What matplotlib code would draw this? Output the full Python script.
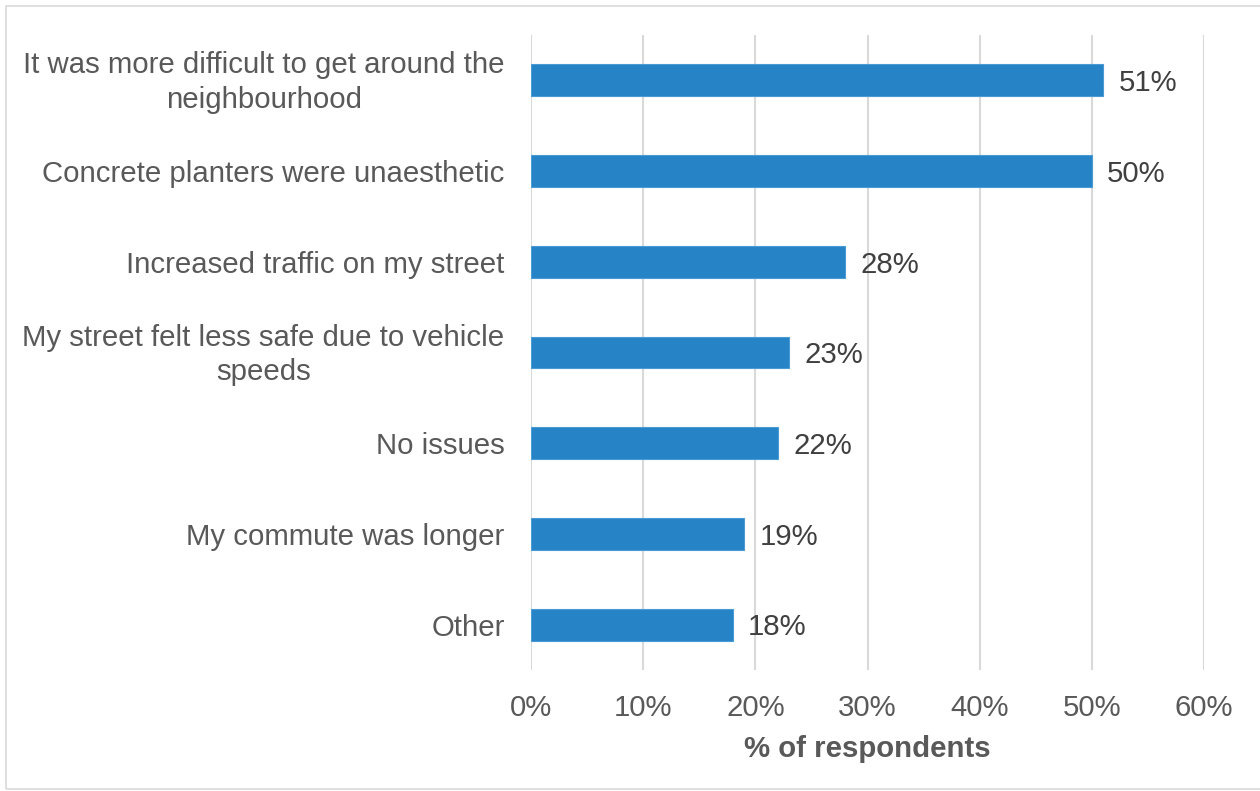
import matplotlib
matplotlib.use("Agg")
import matplotlib.pyplot as plt
import matplotlib.transforms as mtransforms
from matplotlib.patches import Rectangle
from matplotlib.ticker import FuncFormatter

plt.rcParams['font.family'] = ['Liberation Sans', 'DejaVu Sans']

categories = [
    "It was more difficult to get around the\nneighbourhood",
    "Concrete planters were unaesthetic",
    "Increased traffic on my street",
    "My street felt less safe due to vehicle\nspeeds",
    "No issues",
    "My commute was longer",
    "Other",
]
values = [51, 50, 28, 23, 22, 19, 18]
xticks = [0, 10, 20, 30, 40, 50, 60]

bar_color = "#2683C6"
text_color = "#595959"
value_color = "#404040"
grid_color = "#D9D9D9"
fs = 21.2

W, H, DPI = 1260, 791, 100
fig = plt.figure(figsize=(W / DPI, H / DPI), dpi=DPI)
fig.patch.set_facecolor("white")

# outer frame
fig.patches.append(Rectangle((6 / W, 0.002), 1.0, 1 - 6 / H - 0.002,
                             transform=fig.transFigure, fill=False,
                             edgecolor="#D9D9D9", linewidth=1.2))

left, right = 531 / W, 1204 / W
top, bottom = 1 - 35 / H, 1 - 670 / H
ax = fig.add_axes([left, bottom, right - left, top - bottom])

ypos = list(range(len(categories)))
ax.barh(ypos, values, height=0.35, color=bar_color,
        edgecolor="#4A9AD6", linewidth=0.8, zorder=3)

for y, v in zip(ypos, values):
    ax.annotate(f"{v}%", xy=(v, y), xytext=(11, -2), textcoords="offset points",
                ha="left", va="center", fontsize=fs, color=value_color)

ax.set_xlim(0, 60)
ax.set_ylim(len(categories) - 0.5, -0.5)
ax.set_xticks(xticks)
ax.xaxis.set_major_formatter(FuncFormatter(lambda x, p: f"{int(x)}%"))
ax.set_yticks(ypos)
ax.set_yticklabels(categories, fontsize=fs, color=text_color,
                   ha="right", multialignment="center", linespacing=1.3)
ax.tick_params(axis="y", length=0, pad=19)
ax.tick_params(axis="x", length=0, pad=17.5, labelsize=fs, labelcolor=text_color)

# nudge two-line labels up so they sit centred on their bars
lift = mtransforms.ScaledTranslation(0, 4 / DPI, fig.dpi_scale_trans)
for lab in ax.get_yticklabels():
    if "\n" in lab.get_text():
        lab.set_transform(lab.get_transform() + lift)

ax.grid(axis="x", color=grid_color, linewidth=1.5, zorder=0)
ax.set_axisbelow(True)
for s in ax.spines.values():
    s.set_visible(False)

ax.set_xlabel("% of respondents", fontsize=fs, fontweight="bold",
              color=text_color, labelpad=9)

fig.savefig("out.png", dpi=DPI, facecolor="white")
